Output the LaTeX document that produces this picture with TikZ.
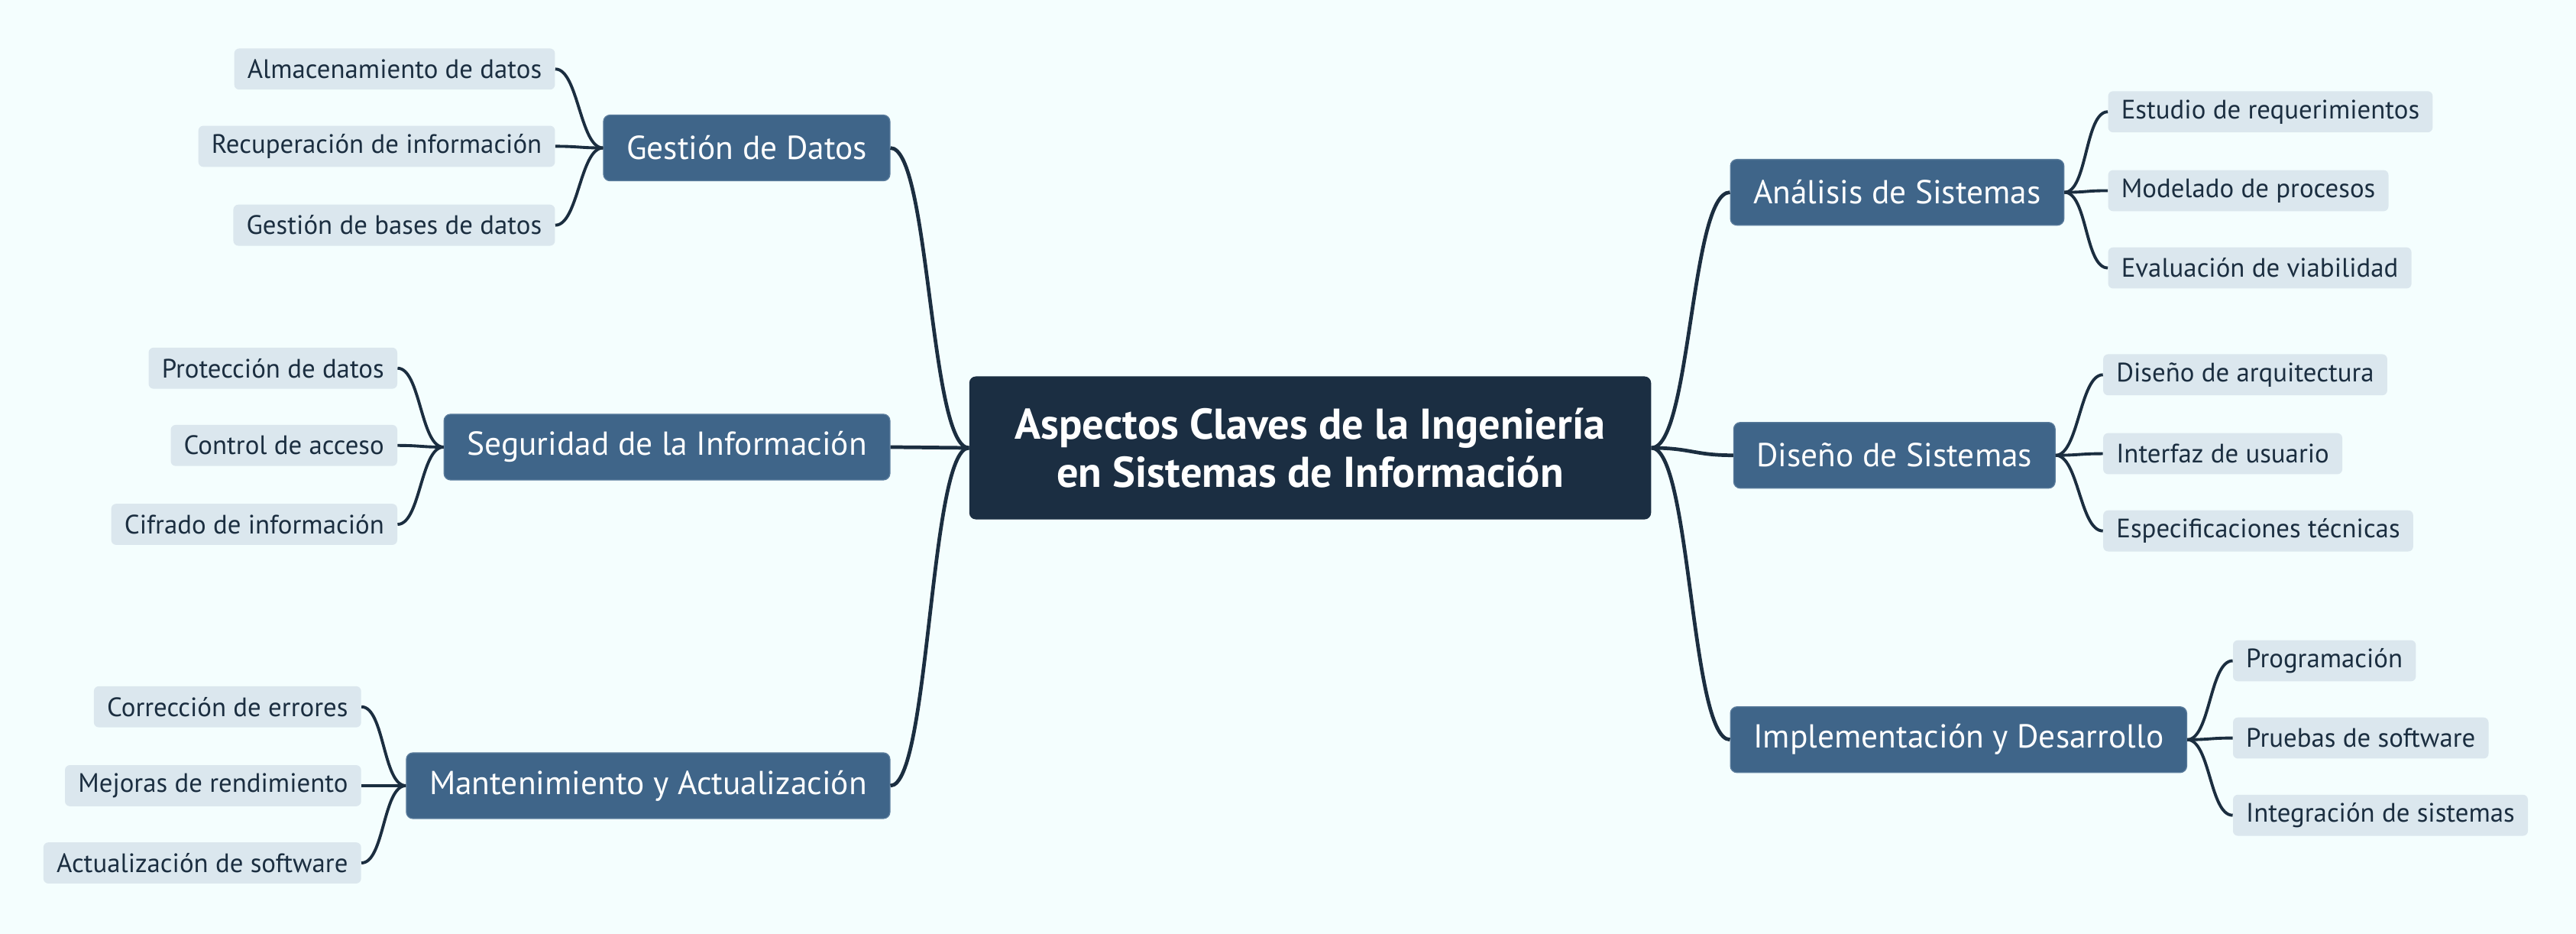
\documentclass[tikz,border=0pt]{standalone}
\usepackage{fontspec}
\setmainfont{PT Sans}
\definecolor{bgc}{HTML}{F4FEFE}
\definecolor{rootc}{HTML}{1B2E42}
\definecolor{lvAc}{HTML}{3F6589}
\definecolor{lvAd}{HTML}{5A7C9C}
\definecolor{lvBc}{HTML}{DBE7EE}
\definecolor{txtc}{HTML}{1B2E40}
\definecolor{linec}{HTML}{1B2E40}
\tikzset{
  root/.style={fill=rootc, text=white, rounded corners=4pt, align=center,
    font=\fontsize{26.2}{29.5}\selectfont\bfseries, minimum width=415pt, minimum height=87pt},
  lvA/.style={fill=lvAc, draw=lvAd, line width=0.6pt, text=white, rounded corners=4pt,
    font=\fontsize{20.2}{23}\selectfont, minimum height=40pt, inner xsep=14pt},
  lvB/.style={fill=lvBc, text=txtc, rounded corners=3pt,
    font=\fontsize{16.2}{18}\selectfont, minimum height=25pt, inner xsep=8pt},
  connA/.style={draw=linec, line width=2.2pt},
  connB/.style={draw=linec, line width=1.8pt},
}
\begin{document}
\begin{tikzpicture}[x=1pt,y=-1pt]
\fill[bgc] (0,0) rectangle (1568,568);
\useasboundingbox (0,0) rectangle (1568,568);
\node[root] (c) at (797.5,272.5) {Aspectos Claves de la Ingeniería\\en Sistemas de Información};
% left level 1
\node[lvA, anchor=east] (gd) at (542,90) {Gestión de Datos};
\node[lvA, anchor=east] (si) at (542,272) {Seguridad de la Información};
\node[lvA, anchor=east] (ma) at (542,478) {Mantenimiento y Actualización};
% right level 1
\node[lvA, anchor=west] (as) at (1053,117) {Análisis de Sistemas};
\node[lvA, anchor=west] (ds) at (1055,277) {Diseño de Sistemas};
\node[lvA, anchor=west] (id) at (1053,450) {Implementación y Desarrollo};
% level 2 left
\node[lvB, anchor=east] (gd1) at (338,42) {Almacenamiento de datos};
\node[lvB, anchor=east] (gd2) at (338,89) {Recuperación de información};
\node[lvB, anchor=east] (gd3) at (338,137) {Gestión de bases de datos};
\node[lvB, anchor=east] (si1) at (242,224) {Protección de datos};
\node[lvB, anchor=east] (si2) at (242,271) {Control de acceso};
\node[lvB, anchor=east] (si3) at (242,319) {Cifrado de información};
\node[lvB, anchor=east] (ma1) at (220,430) {Corrección de errores};
\node[lvB, anchor=east] (ma2) at (220,478) {Mejoras de rendimiento};
\node[lvB, anchor=east] (ma3) at (220,525) {Actualización de software};
% level 2 right
\node[lvB, anchor=west] (as1) at (1283,68) {Estudio de requerimientos};
\node[lvB, anchor=west] (as2) at (1283,116) {Modelado de procesos};
\node[lvB, anchor=west] (as3) at (1283,163) {Evaluación de viabilidad};
\node[lvB, anchor=west] (ds1) at (1280,228) {Diseño de arquitectura};
\node[lvB, anchor=west] (ds2) at (1280,276) {Interfaz de usuario};
\node[lvB, anchor=west] (ds3) at (1280,323) {Especificaciones técnicas};
\node[lvB, anchor=west] (id1) at (1359,402) {Programación};
\node[lvB, anchor=west] (id2) at (1359,449) {Pruebas de software};
\node[lvB, anchor=west] (id3) at (1359,496) {Integración de sistemas};
% connectors root
\foreach \n in {gd,si,ma}
  \draw[connA] (c.west) .. controls +(-24,0) and +(24,0) .. (\n.east);
\foreach \n in {as,ds,id}
  \draw[connA] (c.east) .. controls +(24,0) and +(-24,0) .. (\n.west);
% connectors level 2
\foreach \p in {gd,si,ma}
  \foreach \k in {1,2,3}
    \draw[connB] (\p.west) .. controls +(-14,0) and +(14,0) .. (\p\k.east);
\foreach \p in {as,ds,id}
  \foreach \k in {1,2,3}
    \draw[connB] (\p.east) .. controls +(14,0) and +(-14,0) .. (\p\k.west);
\end{tikzpicture}
\end{document}
